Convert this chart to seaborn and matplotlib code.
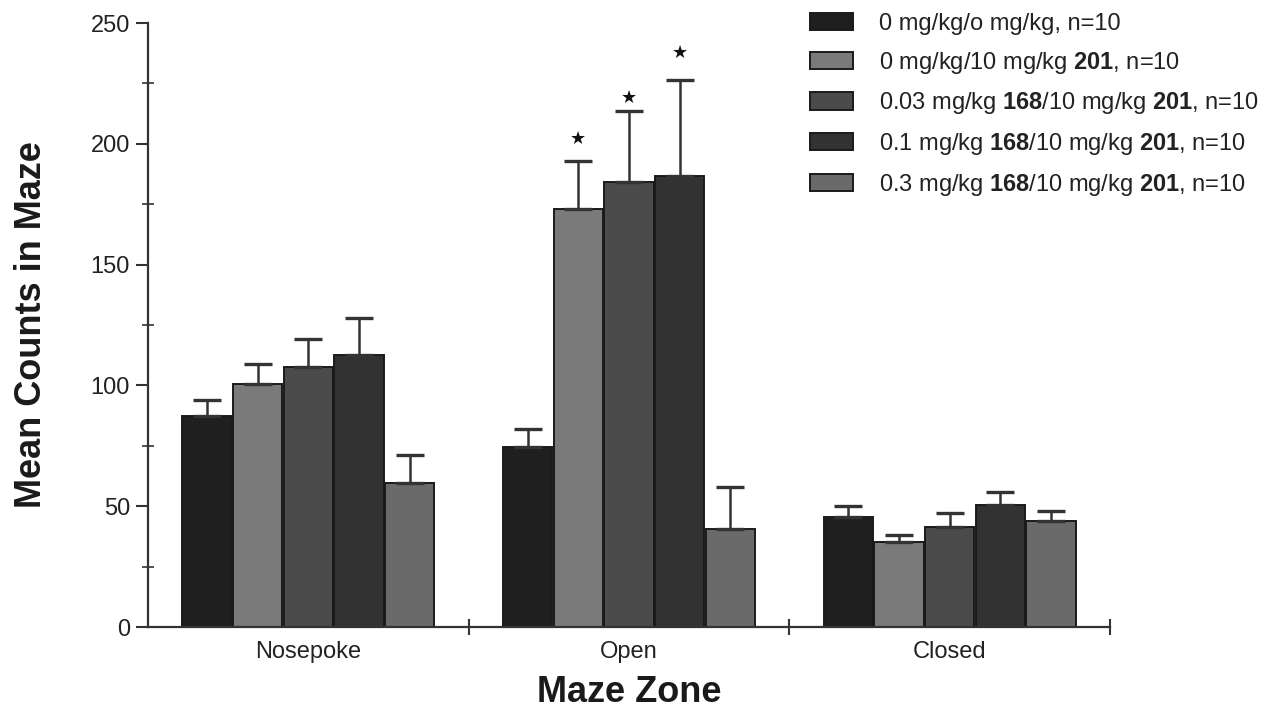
import numpy as np
import pandas as pd
import seaborn as sns
import matplotlib.pyplot as plt

# data
zones = ["Nosepoke", "Open", "Closed"]
groups = [
    "0 mg/kg/o mg/kg, n=10",
    "0 mg/kg/10 mg/kg $\\mathbf{201}$, n=10",
    "0.03 mg/kg $\\mathbf{168}$/10 mg/kg $\\mathbf{201}$, n=10",
    "0.1 mg/kg $\\mathbf{168}$/10 mg/kg $\\mathbf{201}$, n=10",
    "0.3 mg/kg $\\mathbf{168}$/10 mg/kg $\\mathbf{201}$, n=10",
]
means_nosepoke = [87.5, 100.5, 107.5, 112.5, 59.5]
means_open = [74.5, 173.0, 184.0, 186.5, 40.5]
means_closed = [45.5, 35.0, 41.5, 50.5, 44.0]
sem_nosepoke = [6.5, 8.5, 11.5, 15.5, 11.5]
sem_open = [7.5, 20.0, 29.5, 40.0, 17.5]
sem_closed = [4.5, 3.0, 5.5, 5.5, 4.0]
# stars: (zone index, group index, height of the star)
stars = [(1, 1, 202), (1, 2, 219), (1, 3, 237.5)]

colors = ["#1f1f1f", "#7a7a7a", "#4b4b4b", "#323232", "#6a6a6a"]

# long-form table for seaborn
means = [means_nosepoke, means_open, means_closed]
sems = [sem_nosepoke, sem_open, sem_closed]
rows = []
for zi, z in enumerate(zones):
    for gi, g in enumerate(groups):
        rows.append({"zone": z, "group": g, "mean": means[zi][gi], "sem": sems[zi][gi]})
df = pd.DataFrame(rows)

sns.set_style("ticks")
plt.rcParams["font.family"] = ["Liberation Sans", "DejaVu Sans"]
plt.rcParams["mathtext.fontset"] = "custom"
plt.rcParams["mathtext.rm"] = "Liberation Sans"
plt.rcParams["mathtext.bf"] = "Liberation Sans:bold"

fig = plt.figure(figsize=(12.71, 7.11), dpi=100)
ax = fig.add_axes([148 / 1271, 1 - 627 / 711, (1110 - 148) / 1271, (627 - 23) / 711])

sns.barplot(data=df, x="zone", y="mean", hue="group", order=zones, hue_order=groups,
            palette=colors, errorbar=None, width=0.79, gap=0.03,
            edgecolor="#1a1a1a", linewidth=1.4, ax=ax)

# one-sided error bars on top of each bar
bar_containers = list(ax.containers)
for gi, cont in enumerate(bar_containers):
    for zi, bar in enumerate(cont):
        xc = bar.get_x() + bar.get_width() / 2
        h = bar.get_height()
        e = sems[zi][gi]
        ax.errorbar(xc, h, yerr=[[0], [e]], fmt="none", ecolor="#333333",
                    elinewidth=1.8, capsize=10, capthick=2.4, zorder=1)

for zi, gi, sy in stars:
    bar = bar_containers[gi][zi]
    xc = bar.get_x() + bar.get_width() / 2
    ax.text(xc, sy, "★", ha="center", va="center", fontsize=13,
            color="#111111", family="DejaVu Sans")

ax.set_xlim(-0.5, 2.5)
ax.set_ylim(0, 250)
ax.set_yticks([0, 50, 100, 150, 200, 250])
ax.set_yticks([25, 75, 125, 175, 225], minor=True)
ax.set_xticks([0, 1, 2])
ax.set_xticklabels(zones)
ax.set_xticks([0.5, 1.5, 2.5], minor=True)
ax.tick_params(axis="x", which="major", length=0, pad=10, labelsize=17, labelcolor="#222222")
ax.tick_params(axis="x", which="minor", length=12, direction="inout", width=1.5, color="#333333")
ax.tick_params(axis="y", which="major", length=9, width=1.5, pad=4, labelsize=17,
               labelcolor="#222222", color="#333333")
ax.tick_params(axis="y", which="minor", length=9, direction="inout", width=1.2, color="#333333")

sns.despine(ax=ax)
for side in ["left", "bottom"]:
    ax.spines[side].set_linewidth(1.6)
    ax.spines[side].set_color("#333333")

ax.set_xlabel("Maze Zone", fontsize=26, fontweight="bold", color="#1a1a1a", labelpad=9)
ax.set_ylabel("Mean Counts in Maze", fontsize=26, fontweight="bold", color="#1a1a1a", labelpad=30)

leg = ax.legend(loc="upper left", bbox_to_anchor=(810 / 1271, 1 - 13 / 711),
                bbox_transform=fig.transFigure, frameon=False, fontsize=17,
                handlelength=1.82, handleheight=0.76, handletextpad=1.1,
                labelspacing=0.62, borderpad=0, borderaxespad=0)
for t in leg.get_texts():
    t.set_color("#222222")

fig.savefig("out.png", dpi=100, facecolor="white")
